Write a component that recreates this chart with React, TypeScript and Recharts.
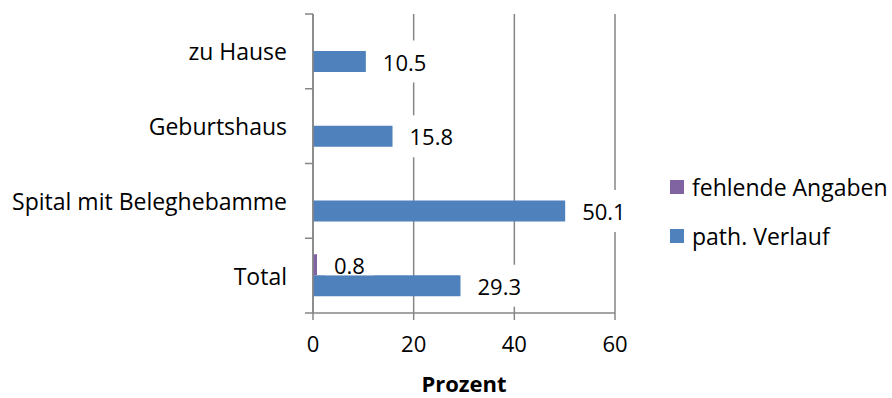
import { BarChart, Bar, XAxis, YAxis, CartesianGrid, LabelList, Label } from "recharts"

const categories = ["zu Hause", "Geburtshaus", "Spital mit Beleghebamme", "Total"]
const pathVerlauf = [10.5, 15.8, 50.1, 29.3]
const fehlendeAngaben = [null, null, null, 0.8]
const xTicks = [0, 20, 40, 60]

const BLUE = "#4F81BD"
const PURPLE = "#8064A2"
const GRID = "#868686"
const FONT = "'Open Sans', sans-serif"

const data = categories.map((name, i) => ({
  name,
  path: pathVerlauf[i],
  fehlend: fehlendeAngaben[i],
}))

// legend reads top-down in reverse of the bar order, like the office chart
const legendItems = [
  { label: "fehlende Angaben", color: PURPLE },
  { label: "path. Verlauf", color: BLUE },
]

// value label with a white box behind it, which cuts through the gridlines.
// upper series keeps its box above its own bar bottom so it doesn't hide the bar below
function ValueLabel(props: any) {
  const { x, y, width, height, value, upper } = props
  if (value == null) return null
  const text = String(value)
  const tw = text.split("").reduce((s, c) => s + (c === "." ? 6 : 12.6), 0)
  const cy = y + height / 2
  const left = x + width
  const top = cy - 21
  const bottom = upper ? y + height : cy + 21
  return (
    <g>
      <rect x={left + 8} y={top} width={tw + 18} height={bottom - top} fill="#fff" />
      <text x={left + 17} y={cy} dominantBaseline="central" fontSize={22} fontFamily={FONT} fill="#000">
        {text}
      </text>
    </g>
  )
}

// category label centred in its band, tick marks on the band edges
function CategoryTick(props: any) {
  const { x, y, payload, index } = props
  const half = payload.offset ?? 37.5
  return (
    <g>
      <line x1={x - 8} x2={x} y1={y - half} y2={y - half} stroke={GRID} strokeWidth={1.5} />
      {index === categories.length - 1 && (
        <line x1={x - 8} x2={x} y1={y + half} y2={y + half} stroke={GRID} strokeWidth={1.5} />
      )}
      <text x={x - 26} y={y} textAnchor="end" dominantBaseline="central" fontSize={23} fontFamily={FONT} fill="#000">
        {payload.value}
      </text>
    </g>
  )
}

export default function App() {
  return (
    <div style={{ position: "absolute", left: 0, top: 0, width: 892, height: 398, background: "#fff" }}>
      <BarChart
        width={892}
        height={398}
        data={data}
        layout="vertical"
        margin={{ top: 14, right: 277, bottom: 0, left: 0 }}
        barGap={0}
        barSize={21}
      >
        <CartesianGrid horizontal={false} stroke={GRID} strokeWidth={1.5} />
        <XAxis
          type="number"
          domain={[0, 60]}
          ticks={xTicks}
          height={85}
          tickSize={7}
          tickMargin={16}
          stroke={GRID}
          strokeWidth={1.5}
          tick={{ fill: "#000", fontSize: 22, fontFamily: FONT }}
        >
          <Label value="Prozent" position="insideBottom" offset={6} fill="#000" fontSize={22} fontWeight="bold" fontFamily={FONT} />
        </XAxis>
        <YAxis
          type="category"
          dataKey="name"
          width={313}
          tickLine={false}
          tickSize={0}
          tickMargin={0}
          stroke={GRID}
          strokeWidth={1.5}
          tick={<CategoryTick />}
        />
        <Bar dataKey="fehlend" fill={PURPLE} isAnimationActive={false}>
          <LabelList dataKey="fehlend" content={<ValueLabel upper />} />
        </Bar>
        <Bar dataKey="path" fill={BLUE} isAnimationActive={false}>
          <LabelList dataKey="path" content={<ValueLabel />} />
        </Bar>
      </BarChart>
      <div style={{ position: "absolute", left: 670, top: 172, fontFamily: FONT, fontSize: 23, color: "#000" }}>
        {legendItems.map((it) => (
          <div key={it.label} style={{ display: "flex", alignItems: "center", height: 30, marginBottom: 19 }}>
            <span style={{ display: "inline-block", width: 14, height: 14, background: it.color, marginRight: 8 }} />
            <span style={{ whiteSpace: "nowrap" }}>{it.label}</span>
          </div>
        ))}
      </div>
    </div>
  )
}
